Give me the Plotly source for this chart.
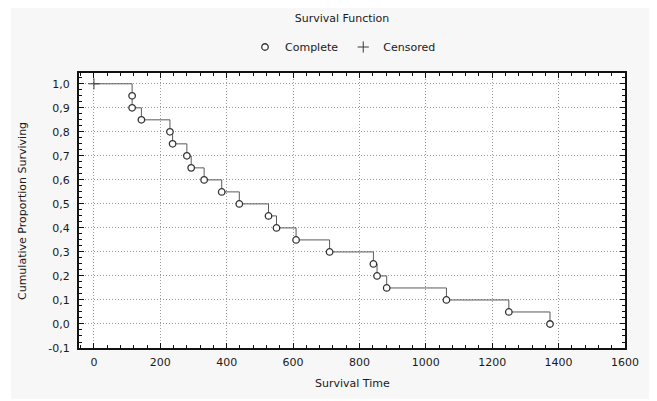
import plotly.graph_objects as go

# ---- data ----
complete_time = [115, 115, 143, 229, 237, 280, 293, 332, 385, 438, 526, 550,
                 609, 710, 842, 853, 882, 1062, 1250, 1374]
complete_surv = [0.95, 0.90, 0.85, 0.80, 0.75, 0.70, 0.65, 0.60, 0.55, 0.50,
                 0.45, 0.40, 0.35, 0.30, 0.25, 0.20, 0.15, 0.10, 0.05, 0.00]
censored_time = [0]
censored_surv = [1.0]

x_tick_vals = [0, 200, 400, 600, 800, 1000, 1200, 1400, 1600]
y_tick_vals = [-0.1, 0.0, 0.1, 0.2, 0.3, 0.4, 0.5, 0.6, 0.7, 0.8, 0.9, 1.0]
y_tick_text = ["-0,1", "0,0", "0,1", "0,2", "0,3", "0,4", "0,5", "0,6",
               "0,7", "0,8", "0,9", "1,0"]

step_x = censored_time + complete_time
step_y = censored_surv + complete_surv

FONT = "DejaVu Sans"
TXT = "#1a1a1a"
GRID_DASH = "1px,2px"

fig = go.Figure()
fig.add_trace(go.Scatter(
    x=step_x, y=step_y, mode="lines", line=dict(color="#5a5a5a", width=1, shape="hv"),
    showlegend=False, hoverinfo="skip"))
fig.add_trace(go.Scatter(
    x=complete_time, y=complete_surv, mode="markers", name="Complete",
    marker=dict(symbol="circle", size=6.5, color="white",
                line=dict(color="#333333", width=1.3))))
fig.add_trace(go.Scatter(
    x=censored_time, y=censored_surv, mode="markers", name="Censored",
    marker=dict(symbol="cross-thin", size=8, color="#3a3a3a",
                line=dict(color="#3a3a3a", width=1))))

axis_common = dict(
    showline=True, linecolor="#111111", linewidth=2, mirror="allticks",
    ticks="inside", ticklen=5, tickwidth=1, tickcolor="#111111",
    showgrid=True, gridcolor="#9a9a9a", gridwidth=1, griddash=GRID_DASH,
    zeroline=False, tickfont=dict(family=FONT, size=11, color=TXT),
)

fig.update_xaxes(**axis_common, range=[-45, 1600], tickvals=x_tick_vals,
                 minor=dict(dtick=40, tick0=0, ticks="inside", ticklen=3,
                            tickcolor="#111111", showgrid=False),
                 ticklabelstandoff=3)
fig.update_yaxes(**axis_common, range=[-0.1, 1.045], tickvals=y_tick_vals,
                 ticktext=y_tick_text,
                 minor=dict(dtick=0.025, tick0=0, ticks="inside", ticklen=3,
                            tickcolor="#111111", showgrid=False),
                 ticklabelstandoff=5)

# page body has an 8px margin: work in figure coordinates = screen - 8
OFF = 8
W, H = 657 - OFF, 401 - OFF
L, R, T, B = 79 - OFF, 625 - OFF, 73 - OFF, 348 - OFF
pw, ph = R - L, B - T
def px(x): return (x - OFF - L) / pw      # x given in screen pixels
def py(y): return (B - (y - OFF)) / ph    # y given in screen pixels

# light-gray panel with thin white border
gx0, gy0, gx1, gy1 = 11, 8, 652, 399
SW, SH = 657, 401
shapes = []
for (a, b, c, d) in [(OFF, OFF, gx0, SH), (gx1, OFF, SW, SH), (OFF, OFF, SW, gy0), (OFF, gy1, SW, SH)]:
    if c - a <= 0 or d - b <= 0:
        continue
    shapes.append(dict(type="rect", xref="paper", yref="paper", layer="below",
                       x0=px(a), x1=px(c), y0=py(d), y1=py(b),
                       fillcolor="white", line=dict(width=0)))

annotations = [
    dict(text="Survival Time", xref="paper", yref="paper", x=0.5, y=py(383),
         showarrow=False, xanchor="center", yanchor="middle",
         font=dict(family=FONT, size=11, color=TXT)),
    dict(text="Cumulative Proportion Surviving", xref="paper", yref="paper",
         x=px(22), y=py(211), textangle=-90, showarrow=False,
         xanchor="center", yanchor="middle",
         font=dict(family=FONT, size=11, color=TXT)),
]

fig.update_layout(
    width=W, height=H,
    margin=dict(l=L, r=W - R, t=T, b=H - B),
    paper_bgcolor="#f7f7f7", plot_bgcolor="white",
    title=dict(text="Survival Function", x=px(342), xref="paper", xanchor="center",
               y=1 - (18 - OFF) / H, yanchor="middle",
               font=dict(family=FONT, size=11, color=TXT)),
    legend=dict(orientation="h", x=px(343), xanchor="center", xref="paper",
                y=py(47), yanchor="middle", yref="paper", bgcolor="rgba(0,0,0,0)",
                font=dict(family=FONT, size=11, color=TXT), itemwidth=30,
                tracegroupgap=0),
    shapes=shapes, annotations=annotations,
    font=dict(family=FONT, color=TXT),
)

fig.write_html("out.html")
